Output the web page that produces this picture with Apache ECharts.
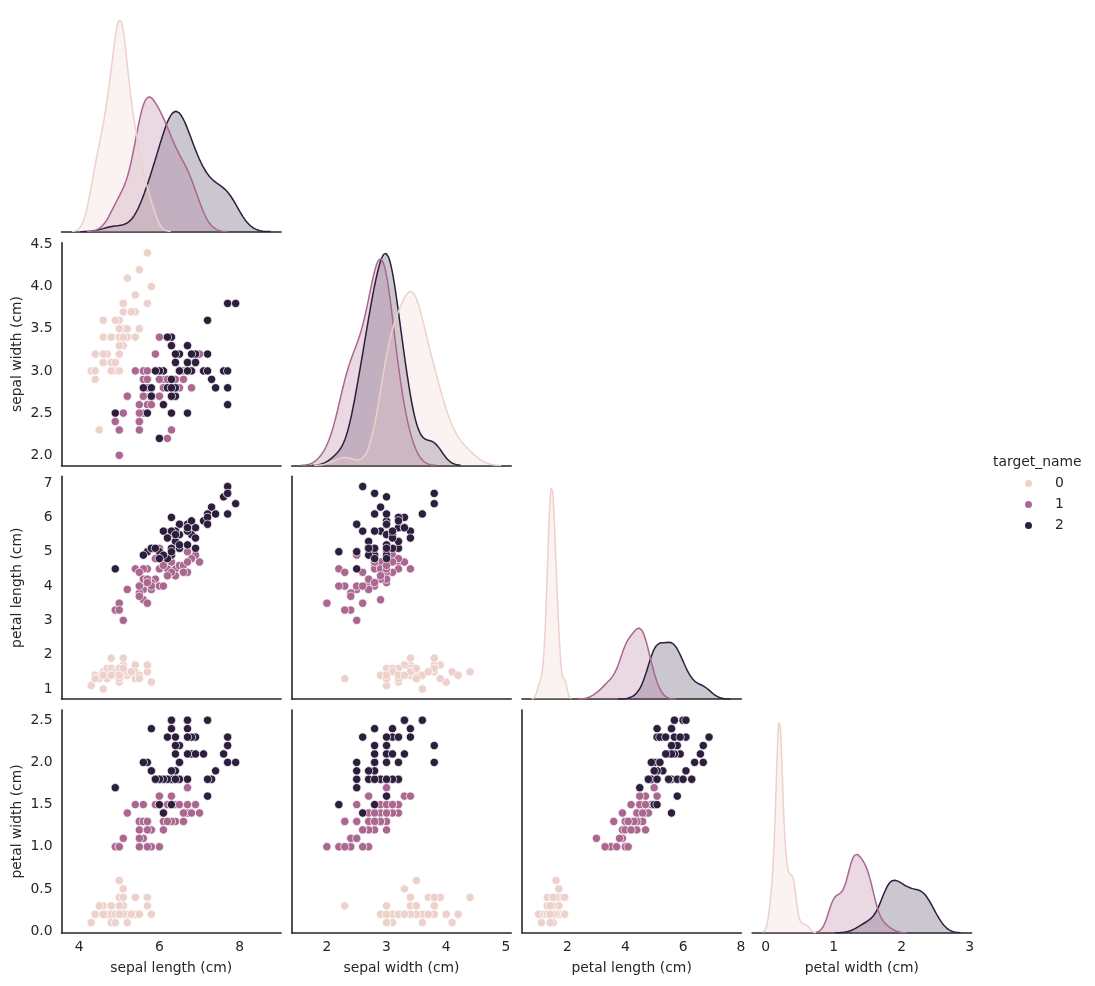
<!DOCTYPE html>
<html>
<head>
<meta charset="utf-8">
<script src="https://cdn.jsdelivr.net/npm/echarts@6/dist/echarts.min.js"></script>
<style>
  html, body { margin: 0; padding: 0; background: #fff; }
  #chart { width: 1095px; height: 986px; }
</style>
</head>
<body>
<div id="chart"></div>
<script>
// iris measurements, split by target (0, 1, 2)
const targetNames = ['0', '1', '2'];
const sepalLength = [
  [5.1,4.9,4.7,4.6,5.0,5.4,4.6,5.0,4.4,4.9,5.4,4.8,4.8,4.3,5.8,5.7,5.4,5.1,5.7,5.1,5.4,5.1,4.6,5.1,4.8,5.0,5.0,5.2,5.2,4.7,4.8,5.4,5.2,5.5,4.9,5.0,5.5,4.9,4.4,5.1,5.0,4.5,4.4,5.0,5.1,4.8,5.1,4.6,5.3,5.0],
  [7.0,6.4,6.9,5.5,6.5,5.7,6.3,4.9,6.6,5.2,5.0,5.9,6.0,6.1,5.6,6.7,5.6,5.8,6.2,5.6,5.9,6.1,6.3,6.1,6.4,6.6,6.8,6.7,6.0,5.7,5.5,5.5,5.8,6.0,5.4,6.0,6.7,6.3,5.6,5.5,5.5,6.1,5.8,5.0,5.6,5.7,5.7,6.2,5.1,5.7],
  [6.3,5.8,7.1,6.3,6.5,7.6,4.9,7.3,6.7,7.2,6.5,6.4,6.8,5.7,5.8,6.4,6.5,7.7,7.7,6.0,6.9,5.6,7.7,6.3,6.7,7.2,6.2,6.1,6.4,7.2,7.4,7.9,6.4,6.3,6.1,7.7,6.3,6.4,6.0,6.9,6.7,6.9,5.8,6.8,6.7,6.7,6.3,6.5,6.2,5.9]
];
const sepalWidth = [
  [3.5,3.0,3.2,3.1,3.6,3.9,3.4,3.4,2.9,3.1,3.7,3.4,3.0,3.0,4.0,4.4,3.9,3.5,3.8,3.8,3.4,3.7,3.6,3.3,3.4,3.0,3.4,3.5,3.4,3.2,3.1,3.4,4.1,4.2,3.1,3.2,3.5,3.6,3.0,3.4,3.5,2.3,3.2,3.5,3.8,3.0,3.8,3.2,3.7,3.3],
  [3.2,3.2,3.1,2.3,2.8,2.8,3.3,2.4,2.9,2.7,2.0,3.0,2.2,2.9,2.9,3.1,3.0,2.7,2.2,2.5,3.2,2.8,2.5,2.8,2.9,3.0,2.8,3.0,2.9,2.6,2.4,2.4,2.7,2.7,3.0,3.4,3.1,2.3,3.0,2.5,2.6,3.0,2.6,2.3,2.7,3.0,2.9,2.9,2.5,2.8],
  [3.3,2.7,3.0,2.9,3.0,3.0,2.5,2.9,2.5,3.6,3.2,2.7,3.0,2.5,2.8,3.2,3.0,3.8,2.6,2.2,3.2,2.8,2.8,2.7,3.3,3.2,2.8,3.0,2.8,3.0,2.8,3.8,2.8,2.8,2.6,3.0,3.4,3.1,3.0,3.1,3.1,3.1,2.7,3.2,3.3,3.0,2.5,3.0,3.4,3.0]
];
const petalLength = [
  [1.4,1.4,1.3,1.5,1.4,1.7,1.4,1.5,1.4,1.5,1.5,1.6,1.4,1.1,1.2,1.5,1.3,1.4,1.7,1.5,1.7,1.5,1.0,1.7,1.9,1.6,1.6,1.5,1.4,1.6,1.6,1.5,1.5,1.4,1.5,1.2,1.3,1.4,1.3,1.5,1.3,1.3,1.3,1.6,1.9,1.4,1.6,1.4,1.5,1.4],
  [4.7,4.5,4.9,4.0,4.6,4.5,4.7,3.3,4.6,3.9,3.5,4.2,4.0,4.7,3.6,4.4,4.5,4.1,4.5,3.9,4.8,4.0,4.9,4.7,4.3,4.4,4.8,5.0,4.5,3.5,3.8,3.7,3.9,5.1,4.5,4.5,4.7,4.4,4.1,4.0,4.4,4.6,4.0,3.3,4.2,4.2,4.2,4.3,3.0,4.1],
  [6.0,5.1,5.9,5.6,5.8,6.6,4.5,6.3,5.8,6.1,5.1,5.3,5.5,5.0,5.1,5.3,5.5,6.7,6.9,5.0,5.7,4.9,6.7,4.9,5.7,6.0,4.8,4.9,5.6,5.8,6.1,6.4,5.6,5.1,5.6,6.1,5.6,5.5,4.8,5.4,5.6,5.1,5.1,5.9,5.7,5.2,5.0,5.2,5.4,5.1]
];
const petalWidth = [
  [0.2,0.2,0.2,0.2,0.2,0.4,0.3,0.2,0.2,0.1,0.2,0.2,0.1,0.1,0.2,0.4,0.4,0.3,0.3,0.3,0.2,0.4,0.2,0.5,0.2,0.2,0.4,0.2,0.2,0.2,0.2,0.4,0.1,0.2,0.2,0.2,0.2,0.1,0.2,0.2,0.3,0.3,0.2,0.6,0.4,0.3,0.2,0.2,0.2,0.2],
  [1.4,1.5,1.5,1.3,1.5,1.3,1.6,1.0,1.3,1.4,1.0,1.5,1.0,1.4,1.3,1.4,1.5,1.0,1.5,1.1,1.8,1.3,1.5,1.2,1.3,1.4,1.4,1.7,1.5,1.0,1.1,1.0,1.2,1.6,1.5,1.6,1.5,1.3,1.3,1.3,1.2,1.4,1.2,1.0,1.3,1.2,1.3,1.3,1.1,1.3],
  [2.5,1.9,2.1,1.8,2.2,2.1,1.7,1.8,1.8,2.5,2.0,1.9,2.1,2.0,2.4,2.3,1.8,2.2,2.3,1.5,2.3,2.0,2.0,1.8,2.1,1.8,1.8,1.8,2.1,1.6,1.9,2.0,2.2,1.5,1.4,2.3,2.4,1.8,1.8,2.1,2.4,2.3,1.9,2.3,2.5,2.3,1.9,2.0,2.3,1.8]
];

const variables = [sepalLength, sepalWidth, petalLength, petalWidth];
const varLabels = ['sepal length (cm)', 'sepal width (cm)', 'petal length (cm)', 'petal width (cm)'];

// axis ranges + tick labels
const axisRanges = [[3.56, 9.03], [1.41, 5.09], [0.42, 8.02], [-0.2, 3.03]];
const scatterYRanges = [null, [1.88, 4.52], [0.705, 7.195], [-0.02, 2.62]];
const xTicks = [[4, 6, 8], [2, 3, 4, 5], [2, 4, 6, 8], [0, 1, 2, 3]];
const yTicks = [null, [2, 2.5, 3, 3.5, 4, 4.5], [1, 2, 3, 4, 5, 6, 7], [0, 0.5, 1, 1.5, 2, 2.5]];
const yDecimals = [0, 1, 0, 1];

const colors = ['#edd1cb', '#aa678f', '#2d1e3e'];
const ink = '#262626';
const font = 'DejaVu Sans';
const fs = 13.9;

// gaussian kde (scott bandwidth, cut=3), weighted by group share like seaborn common_norm
function kde(values, weight) {
  const n = values.length;
  const mean = values.reduce((a, b) => a + b, 0) / n;
  const sd = Math.sqrt(values.reduce((a, b) => a + (b - mean) ** 2, 0) / (n - 1));
  const bw = sd * Math.pow(n, -0.2);
  const lo = Math.min(...values) - 3 * bw;
  const hi = Math.max(...values) + 3 * bw;
  const pts = [];
  for (let i = 0; i < 200; i++) {
    const x = lo + (hi - lo) * i / 199;
    let s = 0;
    for (const v of values) s += Math.exp(-0.5 * ((x - v) / bw) ** 2);
    pts.push([x, weight * s / (n * bw * Math.sqrt(2 * Math.PI))]);
  }
  return pts;
}

const chart = echarts.init(document.getElementById('chart'), null, { renderer: 'canvas' });

const grids = [], xAxes = [], yAxes = [], series = [];
const cellLeft = 61.5, cellPitchX = 230.2, cellW = 219.5;
const cellTop = 9, cellPitchY = 233.7, cellH = 222.7;
const total = variables[0].reduce((a, g) => a + g.length, 0);

for (let r = 0; r < 4; r++) {
  for (let c = 0; c <= r; c++) {
    const idx = grids.length;
    const diag = r === c;
    const bottomRow = r === 3;
    grids.push({
      left: cellLeft + c * cellPitchX, top: cellTop + r * cellPitchY,
      width: cellW, height: cellH, outerBoundsMode: 'none'
    });
    xAxes.push({
      gridIndex: idx, type: 'value',
      min: axisRanges[c][0], max: axisRanges[c][1],
      splitLine: { show: false }, axisTick: { show: false },
      axisLine: { onZero: false, lineStyle: { color: ink, width: 1.6 } },
      axisLabel: {
        show: bottomRow, customValues: xTicks[c], margin: 8,
        color: ink, fontSize: fs, fontFamily: font
      },
      name: bottomRow ? varLabels[c] : '', nameLocation: 'middle', nameGap: 29,
      nameTextStyle: { color: ink, fontSize: fs, fontFamily: font }
    });
    if (diag) {
      yAxes.push({
        gridIndex: idx, type: 'value', show: false, min: 0,
        max: v => v.max * 1.05, splitLine: { show: false }
      });
    } else {
      const first = c === 0;
      yAxes.push({
        gridIndex: idx, type: 'value',
        min: scatterYRanges[r][0], max: scatterYRanges[r][1],
        splitLine: { show: false }, axisTick: { show: false },
        axisLine: { show: true, onZero: false, lineStyle: { color: ink, width: 1.6 } },
        axisLabel: {
          show: first, customValues: yTicks[r], margin: 9,
          formatter: v => v.toFixed(yDecimals[r]),
          color: ink, fontSize: fs, fontFamily: font
        },
        name: first ? varLabels[r] : '', nameLocation: 'middle', nameGap: 37,
        nameTextStyle: { color: ink, fontSize: fs, fontFamily: font }
      });
    }

    if (diag) {
      for (let g = 2; g >= 0; g--) {
        const vals = variables[c][g];
        series.push({
          type: 'line', name: 'kde' + g, xAxisIndex: idx, yAxisIndex: idx,
          data: kde(vals, vals.length / total), showSymbol: false, smooth: false,
          silent: true, animation: false,
          lineStyle: { color: colors[g], width: 1.5 },
          areaStyle: { color: colors[g], opacity: 0.25 }
        });
      }
    } else {
      for (let g = 0; g < 3; g++) {
        const xs = variables[c][g], ys = variables[r][g];
        series.push({
          type: 'scatter', name: targetNames[g], xAxisIndex: idx, yAxisIndex: idx,
          data: xs.map((x, i) => [x, ys[i]]), symbolSize: 8.3, silent: true,
          itemStyle: { color: colors[g], borderColor: '#fff', borderWidth: 0.7, opacity: 1 }
        });
      }
    }
  }
}

chart.setOption({
  animation: false,
  backgroundColor: '#fff',
  title: {
    text: 'target_name', left: 993, top: 455, padding: 0,
    textStyle: { color: ink, fontSize: fs, fontWeight: 'normal', fontFamily: font }
  },
  legend: {
    data: targetNames, orient: 'vertical', left: 1023, top: 476.5, padding: 0,
    icon: 'circle', itemWidth: 9, itemHeight: 9, itemGap: 7, selectedMode: false,
    textStyle: { color: ink, fontSize: fs, fontFamily: font, padding: [0, 0, 0, 17] }
  },
  grid: grids,
  xAxis: xAxes,
  yAxis: yAxes,
  series: series
});
</script>
</body>
</html>
